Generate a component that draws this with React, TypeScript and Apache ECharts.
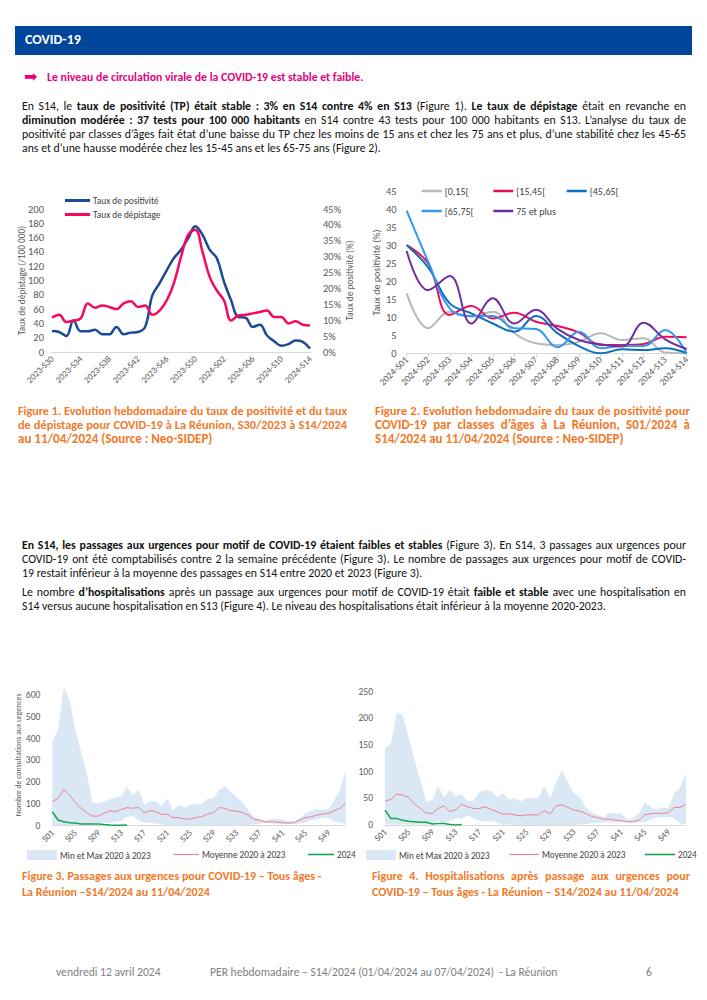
import React, { useEffect, useLayoutEffect, useRef } from 'react';
import * as echarts from 'echarts';

const FONT = "Carlito, Calibri, Lato, 'Noto Sans', sans-serif";
const AXIS_GRAY = '#595959';
const ORANGE = '#f07a2a';

// ---------- Figure 1 ----------
const WEEKS1 = [
  '2023-S30', '2023-S31', '2023-S32', '2023-S33', '2023-S34', '2023-S35', '2023-S36', '2023-S37', '2023-S38',
  '2023-S39', '2023-S40', '2023-S41', '2023-S42', '2023-S43', '2023-S44', '2023-S45', '2023-S46', '2023-S47',
  '2023-S48', '2023-S49', '2023-S50', '2023-S51', '2023-S52', '2024-S01', '2024-S02', '2024-S03', '2024-S04',
  '2024-S05', '2024-S06', '2024-S07', '2024-S08', '2024-S09', '2024-S10', '2024-S11', '2024-S12', '2024-S13', '2024-S14',
];
const POSITIVITE = [6.6, 6.3, 5.0, 9.9, 6.5, 6.5, 7.0, 5.6, 5.6, 7.9, 5.6, 6.1, 6.3, 7.9, 17.8, 21.6, 25.7, 29.5, 32.2, 35.8, 39.6, 36.9, 32.2, 29.5, 22.1, 16.2, 11.0, 10.8, 7.9, 8.6, 5.2, 3.4, 2.0, 2.5, 3.6, 3.2, 1.1];
const DEPISTAGE = [48, 52, 42, 44, 47, 68, 62, 65, 63, 60, 68, 71, 63, 65, 52, 58, 72, 96, 133, 164, 171, 140, 105, 86, 72, 44, 51, 52, 54, 56, 58, 49, 49, 40, 43, 38, 37];

// ---------- Figure 2 ----------
const WEEKS2 = ['2024-S01', '2024-S02', '2024-S03', '2024-S04', '2024-S05', '2024-S06', '2024-S07', '2024-S08', '2024-S09', '2024-S10', '2024-S11', '2024-S12', '2024-S13', '2024-S14'];
const AGE_0_15 = [16.7, 7.0, 11.6, 10.2, 11.6, 5.6, 2.8, 2.3, 3.2, 5.6, 3.7, 4.2, 0.2, 0];
const AGE_15_45 = [30.1, 25.0, 10.7, 13.2, 9.7, 11.3, 8.8, 7.6, 5.8, 2.3, 2.3, 2.6, 4.6, 4.5];
const AGE_45_65 = [30.1, 23.9, 13.9, 11.1, 8.3, 6.0, 10.4, 5.6, 2.0, 0, 1.1, 0.9, 1.4, 0];
const AGE_65_75 = [39.7, 25.5, 12.5, 10.4, 10.4, 7.0, 6.8, 1.7, 6.0, 1.4, 2.0, 2.0, 6.5, 0];
const AGE_75P = [28.5, 17.6, 21.5, 8.3, 15.3, 8.3, 12.1, 6.8, 3.7, 2.5, 1.9, 8.5, 3.9, 1.2];

// ---------- Figures 3 & 4 ----------
const WEEKS52 = [
  'S01', 'S02', 'S03', 'S04', 'S05', 'S06', 'S07', 'S08', 'S09', 'S10', 'S11', 'S12', 'S13',
  'S14', 'S15', 'S16', 'S17', 'S18', 'S19', 'S20', 'S21', 'S22', 'S23', 'S24', 'S25', 'S26',
  'S27', 'S28', 'S29', 'S30', 'S31', 'S32', 'S33', 'S34', 'S35', 'S36', 'S37', 'S38', 'S39',
  'S40', 'S41', 'S42', 'S43', 'S44', 'S45', 'S46', 'S47', 'S48', 'S49', 'S50', 'S51', 'S52',
];
const MAX3 = [386, 440, 638, 577, 440, 340, 240, 103, 103, 110, 121, 129, 133, 179, 141, 164, 95, 115, 110, 90, 125, 72, 95, 84, 95, 100, 100, 125, 125, 164, 182, 156, 133, 110, 72, 41, 30, 22, 32, 32, 27, 22, 18, 34, 57, 67, 75, 72, 75, 118, 164, 256];
const MIN3 = [2, 2, 3, 3, 3, 2, 2, 5, 10, 15, 10, 20, 20, 40, 45, 25, 15, 12, 10, 5, 2, 1, 1, 1, 1, 1, 1, 1, 1, 1, 1, 1, 1, 1, 2, 5, 10, 12, 10, 8, 8, 8, 8, 10, 15, 25, 30, 35, 35, 20, 15, 10];
const MEAN3 = [110, 125, 167, 141, 106, 80, 60, 44, 44, 57, 69, 64, 75, 83, 80, 84, 60, 69, 64, 52, 52, 37, 37, 31, 31, 38, 41, 54, 60, 83, 80, 69, 67, 61, 49, 29, 26, 18, 18, 17, 14, 12, 14, 26, 37, 41, 49, 54, 57, 69, 80, 103];
const Y2024_3 = [64, 26, 18, 14, 12, 8, 8, 8, 8, 5, 3, 2, 2, 3];

const MAX4 = [144, 153, 211, 206, 166, 122, 84, 44, 46, 72, 52, 66, 53, 58, 44, 46, 62, 66, 64, 52, 59, 48, 50, 44, 50, 50, 50, 73, 50, 81, 102, 81, 59, 53, 33, 23, 19, 14, 23, 22, 21, 11, 12, 22, 42, 34, 28, 33, 31, 59, 71, 97];
const MIN4 = [1, 1, 1, 1, 1, 1, 1, 1, 2, 8, 3, 8, 12, 12, 18, 12, 8, 7, 7, 5, 0, 2, 0, 0, 0, 0, 0, 0, 0, 0, 0, 0, 0, 1, 2, 3, 4, 5, 5, 5, 6, 5, 4, 5, 5, 10, 14, 15, 15, 12, 3, 2];
const MEAN4 = [45, 48, 58, 56, 52, 39, 31, 22, 22, 31, 36, 25, 29, 39, 34, 31, 31, 34, 29, 25, 20, 21, 19, 17, 19, 19, 19, 27, 21, 36, 38, 33, 28, 26, 22, 16, 14, 11, 11, 9, 8, 6, 6, 9, 19, 21, 22, 22, 23, 33, 33, 39];
const Y2024_4 = [28, 12, 12, 9, 7, 6, 5, 5, 2, 3, 3, 1, 0, 1];

function EChart({ left, top, width, height, option }: any) {
  const ref = useRef<HTMLDivElement>(null);
  useEffect(() => {
    const chart = echarts.init(ref.current as HTMLDivElement, null, { renderer: 'svg' });
    chart.setOption(option);
    return () => chart.dispose();
  }, []);
  return <div ref={ref} style={{ position: 'absolute', left, top, width, height }} />;
}

// one legend component per item, icon drawn as a thin bar
function legendItem(name: string, left: number, top: number, w: number, h: number, fontSize: number) {
  return {
    left, top, padding: 0, itemWidth: w, itemHeight: h, itemGap: 0,
    textStyle: { fontSize, color: '#404040', fontFamily: FONT, padding: [0, 0, 0, -2] },
    data: [{ name, icon: 'rect' }],
  };
}

const BLUE1 = '#1c4b96';
const PINK1 = '#f5095f';
const option1 = {
  animation: false,
  textStyle: { fontFamily: FONT },
  grid: { left: 52, right: 45, top: 24, bottom: 38, outerBoundsMode: 'none' },
  legend: [
    legendItem('Taux de positivité', 65, 11, 25, 3, 9.3),
    legendItem('Taux de dépistage', 65, 25, 25, 3, 9.3),
  ],
  xAxis: {
    type: 'category', data: WEEKS1, boundaryGap: false,
    axisLine: { lineStyle: { color: '#d9d9d9' } }, axisTick: { show: false },
    axisLabel: { rotate: 45, interval: 3, fontSize: 9, color: AXIS_GRAY, margin: 5 },
  },
  yAxis: [
    {
      type: 'value', min: 0, max: 200, interval: 20, splitLine: { show: false },
      axisLine: { show: false }, axisTick: { show: false },
      axisLabel: { fontSize: 10.5, color: AXIS_GRAY, margin: 8 },
      name: 'Taux de dépistage (/100 000)', nameLocation: 'middle', nameGap: 26, nameMoveOverlap: false,
      nameTextStyle: { fontSize: 9.3, color: AXIS_GRAY },
    },
    {
      type: 'value', min: 0, max: 45, interval: 5, position: 'right', splitLine: { show: false },
      axisLine: { show: false }, axisTick: { show: false },
      axisLabel: { fontSize: 10.5, color: AXIS_GRAY, margin: 13, formatter: '{value}%' },
      name: 'Taux de positivité (%)', nameLocation: 'middle', nameGap: 35, nameRotate: 90, nameMoveOverlap: false,
      nameTextStyle: { fontSize: 9.3, color: AXIS_GRAY },
    },
  ],
  series: [
    {
      name: 'Taux de positivité', type: 'line', yAxisIndex: 1, data: POSITIVITE, smooth: 0.4,
      symbol: 'none', lineStyle: { color: BLUE1, width: 2.5 }, itemStyle: { color: BLUE1 },
    },
    {
      name: 'Taux de dépistage', type: 'line', yAxisIndex: 0, data: DEPISTAGE, smooth: 0.4,
      symbol: 'none', lineStyle: { color: PINK1, width: 2.5 }, itemStyle: { color: PINK1 },
    },
  ],
};

const AGE_COLORS = ['#b8b8b8', '#ee0d5b', '#0b6fba', '#3399ee', '#7030a0'];
const AGE_NAMES = ['[0,15[', '[15,45[', '[45,65[', '[65,75[', '75 et plus'];
const AGE_DATA = [AGE_0_15, AGE_15_45, AGE_45_65, AGE_65_75, AGE_75P];
const option2 = {
  animation: false,
  textStyle: { fontFamily: FONT },
  grid: { left: 51.7, right: 20.3, top: 11.7, bottom: 46.7, outerBoundsMode: 'none' },
  legend: [
    legendItem('[0,15[', 66.7, 6, 20, 2.5, 10),
    legendItem('[15,45[', 138.3, 6, 20, 2.5, 10),
    legendItem('[45,65[', 211.7, 6, 20, 2.5, 10),
    legendItem('[65,75[', 66.7, 26, 20, 2.5, 10),
    legendItem('75 et plus', 138.3, 26, 20, 2.5, 10),
  ],
  xAxis: {
    type: 'category', data: WEEKS2, boundaryGap: false,
    axisLine: { lineStyle: { color: '#d9d9d9' } },
    axisTick: { show: true, length: 4, lineStyle: { color: '#d9d9d9' } },
    axisLabel: { rotate: 45, interval: 0, fontSize: 9.5, color: AXIS_GRAY, margin: 5 },
  },
  yAxis: {
    type: 'value', min: 0, max: 45, interval: 5, splitLine: { show: false },
    axisLine: { show: false }, axisTick: { show: false },
    axisLabel: { fontSize: 10.5, color: AXIS_GRAY, margin: 10 },
    name: 'Taux de positivité (%)', nameLocation: 'middle', nameGap: 25, nameMoveOverlap: false,
    nameTextStyle: { fontSize: 10, color: AXIS_GRAY },
  },
  series: AGE_NAMES.map((n, i) => ({
    name: n, type: 'line', data: AGE_DATA[i], smooth: 0.4, symbol: 'none',
    lineStyle: { color: AGE_COLORS[i], width: 2 }, itemStyle: { color: AGE_COLORS[i] },
  })),
};

const BAND = '#dae7f5';
const MEAN_C = '#ee8290';
const GREEN = '#12a84c';
function bandOption(cfg: any) {
  return {
    animation: false,
    textStyle: { fontFamily: FONT },
    grid: { ...cfg.grid, outerBoundsMode: 'none' },
    legend: [
      legendItem('Min et Max 2020 à 2023', cfg.leg[0], cfg.legTop, 30, 10, 9.2),
      legendItem('Moyenne 2020 à 2023', cfg.leg[1], cfg.legTop, cfg.lineW, 1.2, 9.2),
      legendItem('2024', cfg.leg[2], cfg.legTop, cfg.lineW, 1.6, 9.2),
    ],
    xAxis: {
      type: 'category', data: WEEKS52, boundaryGap: false,
      axisLine: { lineStyle: { color: '#d9d9d9' } }, axisTick: { show: false },
      axisLabel: { rotate: 45, interval: 3, fontSize: 9, color: AXIS_GRAY, margin: 5 },
    },
    yAxis: {
      type: 'value', min: 0, max: cfg.max, interval: cfg.interval, splitLine: { show: false },
      axisLine: { show: false }, axisTick: { show: false },
      axisLabel: {
        fontSize: 9.5, color: AXIS_GRAY, margin: cfg.labelMargin,
        formatter: (v: number) => (v % cfg.interval === 0 ? String(v) : ''),
      },
      name: cfg.name || '', nameLocation: 'middle', nameGap: 30, nameMoveOverlap: false,
      nameTextStyle: { fontSize: 7.8, color: AXIS_GRAY },
    },
    series: [
      {
        name: 'base', type: 'line', stack: 'band', data: cfg.min, symbol: 'none', silent: true,
        lineStyle: { opacity: 0 },
      },
      {
        name: 'Min et Max 2020 à 2023', type: 'line', stack: 'band', symbol: 'none', silent: true,
        data: cfg.max_.map((v: number, i: number) => v - cfg.min[i]),
        lineStyle: { opacity: 0 }, areaStyle: { color: BAND, opacity: 1 }, itemStyle: { color: BAND },
      },
      {
        name: 'Moyenne 2020 à 2023', type: 'line', data: cfg.mean, symbol: 'none',
        lineStyle: { color: MEAN_C, width: 1 }, itemStyle: { color: MEAN_C },
      },
      {
        name: '2024', type: 'line', data: cfg.y2024, symbol: 'none',
        lineStyle: { color: GREEN, width: 1.5 }, itemStyle: { color: GREEN },
      },
    ],
  };
}

const option3 = bandOption({
  grid: { left: 52.3, right: 22.3, top: 4.1, bottom: 44.3 },
  max: 650, interval: 100, labelMargin: 12,
  name: 'Nombre de consultations aux urgences',
  min: MIN3, max_: MAX3, mean: MEAN3, y2024: Y2024_3,
  leg: [27, 173, 308], legTop: 170, lineW: 26,
});
const option4 = bandOption({
  grid: { left: 30, right: 21, top: 11.7, bottom: 45 },
  max: 250, interval: 50, labelMargin: 12,
  min: MIN4, max_: MAX4, mean: MEAN4, y2024: Y2024_4,
  leg: [11, 154, 290], legTop: 170, lineW: 30,
});

function Line({ top, left, width, justify, children, style, h = 14 }: any) {
  const ref = useRef<HTMLDivElement>(null);
  useLayoutEffect(() => {
    const el = ref.current;
    if (!el) return;
    if (el.scrollWidth > el.clientWidth + 0.5) {
      const fs = parseFloat(getComputedStyle(el).fontSize);
      el.style.fontSize = (fs * el.clientWidth / el.scrollWidth * 0.995).toFixed(2) + 'px';
    }
  }, []);
  return (
    <div
      ref={ref}
      style={{
        position: 'absolute', top, left, width, height: h, lineHeight: h + 'px',
        whiteSpace: 'nowrap', overflow: 'hidden', textAlign: justify ? 'justify' : 'left',
        textAlignLast: justify ? 'justify' : 'left', ...style,
      } as any}
    >
      {children}
    </div>
  );
}

const PARA = { fontSize: 11.8, color: '#111' };
const CAP = { fontSize: 13, color: ORANGE, fontWeight: 700 };
const CAP2 = { fontSize: 12, color: ORANGE, fontWeight: 700 };
const FOOT = { color: '#7f7f7f', fontSize: 11.6 };

export default function App() {
  return (
    <div style={{ position: 'absolute', left: 0, top: 0, width: 707, height: 1000, background: '#fff', fontFamily: FONT, overflow: 'hidden' }}>
      <div style={{ position: 'absolute', left: 15, top: 26, width: 677, height: 29, background: '#00469a' }} />
      <Line top={30} left={25} width={200} h={20} style={{ color: '#fff', fontWeight: 700, fontSize: 14 }}>COVID-19</Line>

      <Line top={66} left={24} width={22} h={22} style={{ color: '#e6007e', fontSize: 16, fontFamily: "'DejaVu Sans'" }}>➡</Line>
      <Line top={69} left={47} width={400} h={16} style={{ color: '#e6007e', fontWeight: 700, fontSize: 11.8 }}>
        Le niveau de circulation virale de la COVID-19 est stable et faible.
      </Line>

      <Line top={99} left={22} width={664} justify style={PARA}>
        En S14, le <b>taux de positivité (TP) était stable : 3% en S14 contre 4% en S13</b> (Figure 1). <b>Le taux de dépistage</b> était en revanche en
      </Line>
      <Line top={113} left={22} width={664} justify style={PARA}>
        <b>diminution modérée : 37 tests pour 100 000 habitants</b> en S14 contre 43 tests pour 100 000 habitants en S13. L’analyse du taux de
      </Line>
      <Line top={127} left={22} width={664} justify style={PARA}>
        positivité par classes d’âges fait état d’une baisse du TP chez les moins de 15 ans et chez les 75 ans et plus, d’une stabilité chez les 45-65
      </Line>
      <Line top={141} left={22} width={664} style={PARA}>
        ans et d’une hausse modérée chez les 15-45 ans et les 65-75 ans (Figure 2).
      </Line>

      <EChart left={0} top={185} width={355} height={205} option={option1} />
      <EChart left={355} top={180} width={352} height={220} option={option2} />

      <Line top={404} left={18} width={329} justify style={CAP}>Figure 1. Evolution hebdomadaire du taux de positivité et du taux</Line>
      <Line top={418} left={18} width={329} justify style={CAP}>de dépistage pour COVID-19 à La Réunion, S30/2023 à S14/2024</Line>
      <Line top={432} left={18} width={329} style={CAP}>au 11/04/2024 (Source : Neo-SIDEP)</Line>

      <Line top={404} left={375} width={315} justify style={CAP}>Figure 2. Evolution hebdomadaire du taux de positivité pour</Line>
      <Line top={418} left={375} width={315} justify style={CAP}>COVID-19 par classes d’âges à La Réunion, S01/2024 à</Line>
      <Line top={432} left={375} width={315} style={CAP}>S14/2024 au 11/04/2024 (Source : Neo-SIDEP)</Line>

      <Line top={538} left={22} width={664} justify style={PARA}>
        <b>En S14, les passages aux urgences pour motif de COVID-19 étaient faibles et stables</b> (Figure 3). En S14, 3 passages aux urgences pour
      </Line>
      <Line top={552} left={22} width={664} justify style={PARA}>
        COVID-19 ont été comptabilisés contre 2 la semaine précédente (Figure 3). Le nombre de passages aux urgences pour motif de COVID-
      </Line>
      <Line top={566} left={22} width={664} style={PARA}>
        19 restait inférieur à la moyenne des passages en S14 entre 2020 et 2023 (Figure 3).
      </Line>
      <Line top={585} left={22} width={664} justify style={PARA}>
        Le nombre <b>d’hospitalisations</b> après un passage aux urgences pour motif de COVID-19 était <b>faible et stable</b> avec une hospitalisation en
      </Line>
      <Line top={599} left={22} width={664} style={PARA}>
        S14 versus aucune hospitalisation en S13 (Figure 4). Le niveau des hospitalisations était inférieur à la moyenne 2020-2023.
      </Line>

      <EChart left={0} top={680} width={368} height={190} option={option3} />
      <EChart left={355} top={680} width={352} height={190} option={option4} />

      <Line top={868} left={22} width={330} h={16} style={CAP2}>Figure 3. Passages aux urgences pour COVID-19 – Tous âges -</Line>
      <Line top={884} left={22} width={330} h={16} style={CAP2}>La Réunion –S14/2024 au 11/04/2024</Line>
      <Line top={868} left={372} width={318} h={16} justify style={CAP2}>Figure 4. Hospitalisations après passage aux urgences pour</Line>
      <Line top={884} left={372} width={318} h={16} style={CAP2}>COVID-19 – Tous âges - La Réunion – S14/2024 au 11/04/2024</Line>

      <Line top={964} left={56} width={130} h={16} style={FOOT}>vendredi 12 avril 2024</Line>
      <Line top={964} left={210} width={380} h={16} style={{ ...FOOT, whiteSpace: 'pre' }}>PER hebdomadaire – S14/2024 (01/04/2024 au 07/04/2024)  - La Réunion</Line>
      <Line top={964} left={646} width={20} h={16} style={FOOT}>6</Line>
    </div>
  );
}
